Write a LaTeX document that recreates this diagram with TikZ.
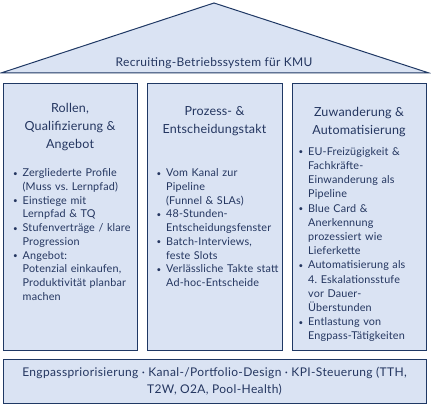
\documentclass[tikz,border=0pt]{standalone}
\usepackage{fontspec}
\setmainfont{Lato}
\usepackage{enumitem}
\definecolor{fillblue}{HTML}{DAE3F3}
\definecolor{navy}{HTML}{1F3864}
\definecolor{txt}{HTML}{243660}
\begin{document}
\frenchspacing
\begin{tikzpicture}[x=1pt,y=1pt,
  panel/.style={draw=navy,fill=fillblue,line width=0.9pt},
  headtxt/.style={text=txt,align=center,inner sep=0pt,anchor=north,font=\fontsize{12.5}{18}\selectfont\addfontfeatures{LetterSpace=1.5}},
  listtxt/.style={text=txt,align=left,inner sep=0pt,anchor=north west,text width=132pt,font=\fontsize{10.8}{13.7}\selectfont\addfontfeatures{LetterSpace=1.5}\frenchspacing},
  roottxt/.style={text=txt,inner sep=0pt,font=\fontsize{12}{14}\selectfont\addfontfeatures{LetterSpace=2.5}}]
\newcommand{\blist}[2]{\begin{itemize}[leftmargin=#1,labelsep=5pt,itemsep=0pt,topsep=0pt,parsep=0pt,partopsep=0pt,label=\raisebox{0.6pt}{\footnotesize\textbullet}]#2\end{itemize}}
\useasboundingbox (0,0) rectangle (431,406);
% roof
\coordinate (apex) at (214,403);
\coordinate (rl) at (1,333);
\coordinate (rr) at (429,333);
\draw[panel,line width=1pt,line join=miter] (rl) -- (apex) -- (rr) -- cycle;
\node[roottxt] (roof) at (214,343) {Recruiting-Betriebssystem für KMU};
% pillars
\node[panel,minimum width=134pt,minimum height=267pt,inner sep=0pt] (p1) at (70,189.5) {};
\node[panel,minimum width=135pt,minimum height=267pt,inner sep=0pt] (p2) at (214.5,189.5) {};
\node[panel,minimum width=134pt,minimum height=267pt,inner sep=0pt] (p3) at (359,189.5) {};
% base
\node[panel,minimum width=423pt,minimum height=44pt,inner sep=0pt] (base) at (214.5,25) {};
% headings
\node[headtxt] (h1) at (70,303) {Rollen,\\Qualifizierung \&\\Angebot};
\node[headtxt] (h2) at (214.5,300) {Prozess- \&\\Entscheidungstakt};
\node[headtxt] (h3) at (359,299) {Zuwanderung \&\\Automatisierung};
% lists
\node[listtxt] (l1) at (10,243) {\blist{12.5pt}{
  \item Zergliederte Profile\\(Muss vs. Lernpfad)
  \item Einstiege mit\\Lernpfad \& TQ
  \item Stufenverträge / klare\\Progression
  \item Angebot:\\Potenzial einkaufen,\\Produktivität planbar\\machen}};
\node[listtxt] (l2) at (153.5,243) {\blist{12.5pt}{
  \item Vom Kanal zur\\Pipeline\\(Funnel \& SLAs)
  \item 48-Stunden-\\Entscheidungsfenster
  \item Batch-Interviews,\\feste Slots
  \item Verlässliche Takte statt\\Ad-hoc-Entscheide}};
\node[listtxt,font=\fontsize{10.8}{14.2}\selectfont\addfontfeatures{LetterSpace=1.5}] (l3) at (296.5,265) {\blist{11.5pt}{
  \item EU-Freizügigkeit \&\\Fachkräfte-\\Einwanderung als\\Pipeline
  \item Blue Card \&\\Anerkennung\\prozessiert wie\\Lieferkette
  \item Automatisierung als\\4. Eskalationsstufe\\vor Dauer-\\Überstunden
  \item Entlastung von\\Engpass-Tätigkeiten}};
\node[text=txt,align=center,inner sep=0pt,font=\fontsize{12}{17}\selectfont\addfontfeatures{LetterSpace=3}] (bt) at (base.center) {Engpasspriorisierung · Kanal-/Portfolio-Design · KPI-Steuerung (TTH,\\T2W, O2A, Pool-Health)};
\end{tikzpicture}
\end{document}
